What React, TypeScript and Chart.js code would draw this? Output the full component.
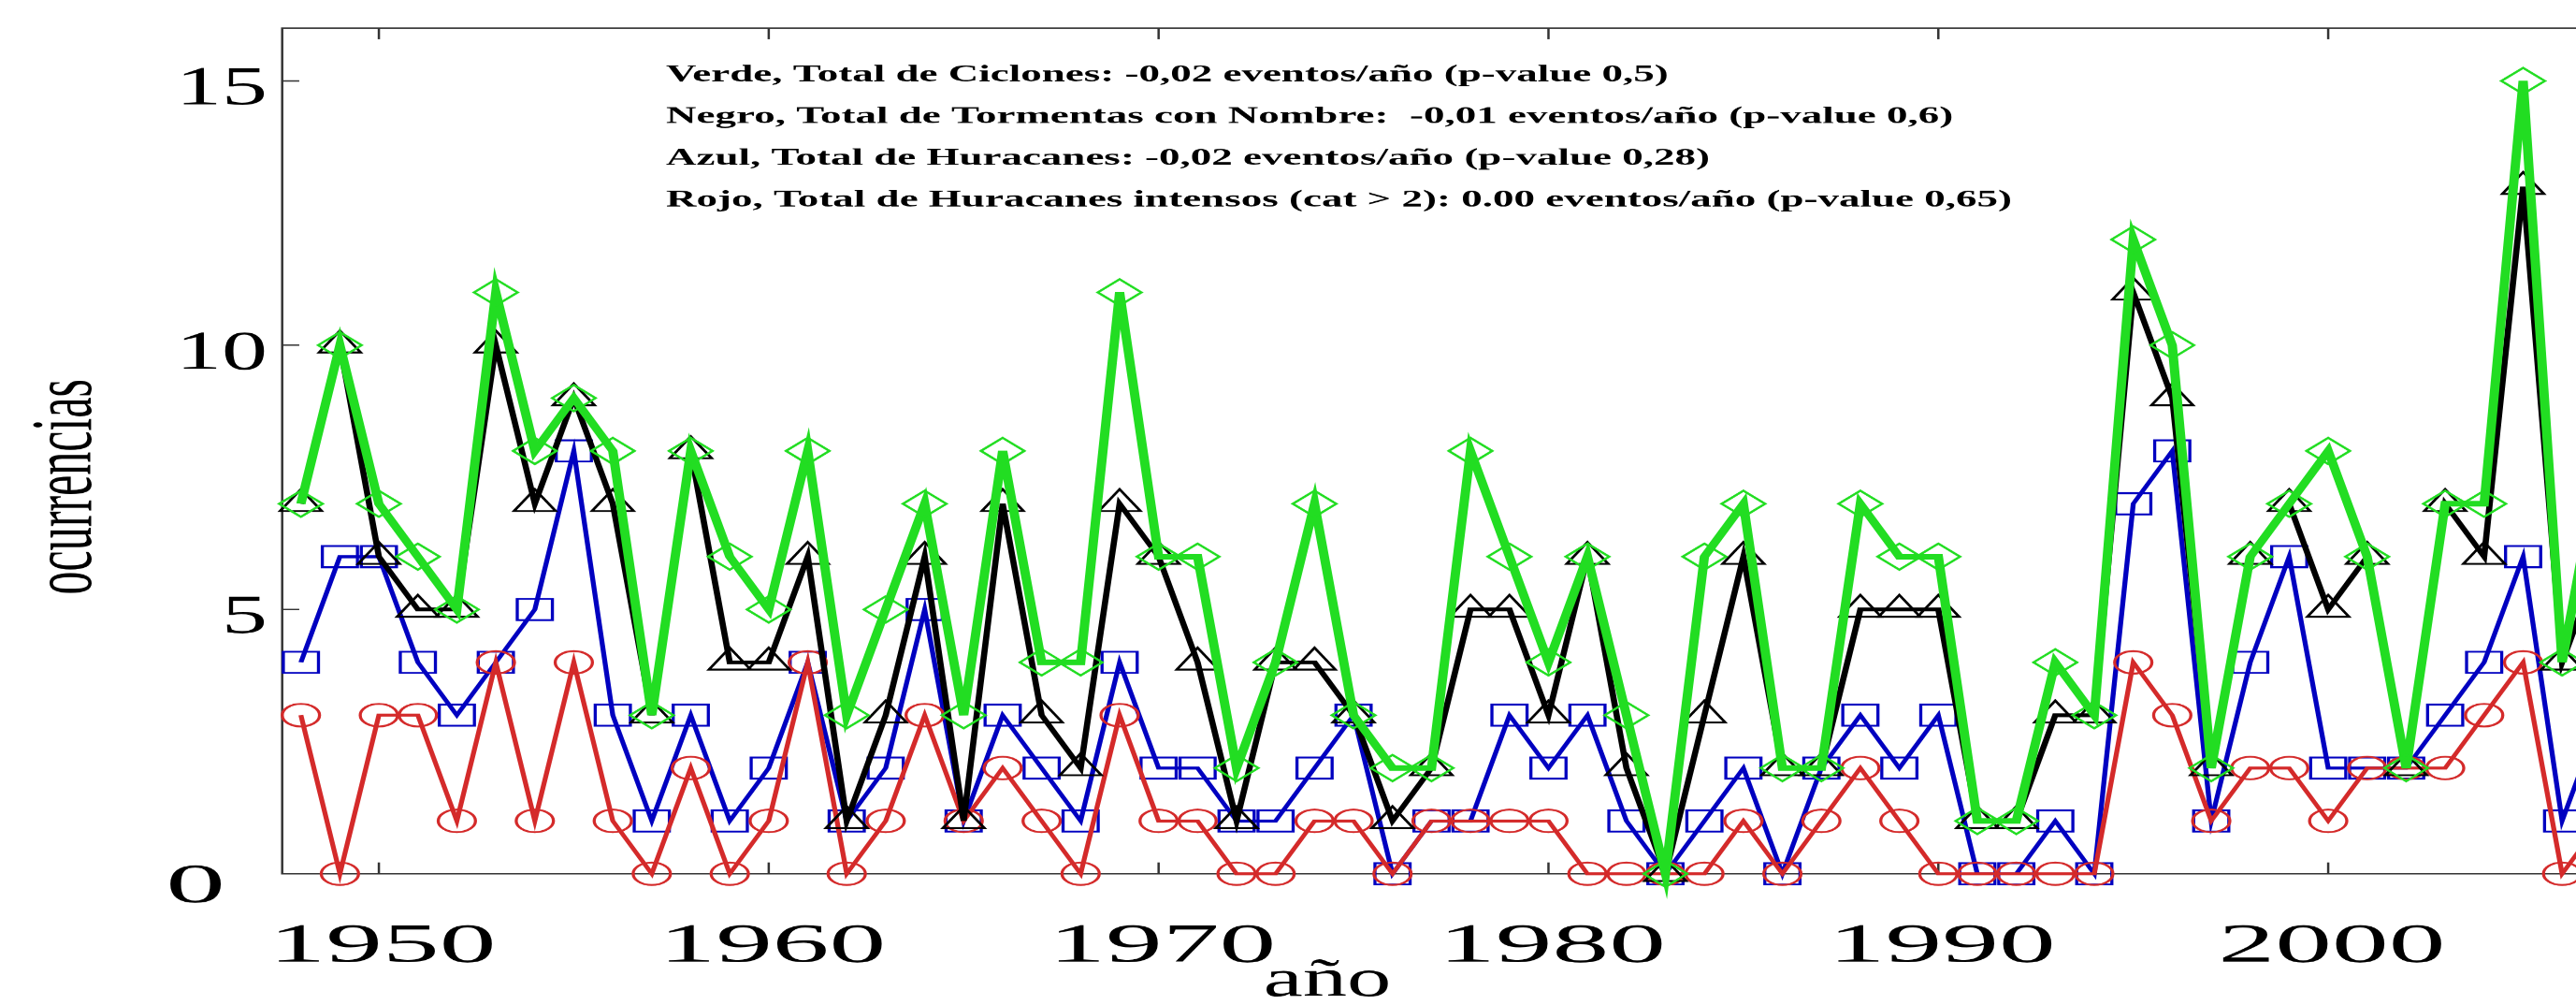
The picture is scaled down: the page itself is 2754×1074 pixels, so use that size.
import React, { useEffect, useRef } from 'react';
import { Chart, registerables } from 'chart.js';

Chart.register(...registerables);

// ---------- data ----------
const years = [
  1948, 1949, 1950, 1951, 1952, 1953, 1954, 1955, 1956, 1957,
  1958, 1959, 1960, 1961, 1962, 1963, 1964, 1965, 1966, 1967,
  1968, 1969, 1970, 1971, 1972, 1973, 1974, 1975, 1976, 1977,
  1978, 1979, 1980, 1981, 1982, 1983, 1984, 1985, 1986, 1987,
  1988, 1989, 1990, 1991, 1992, 1993, 1994, 1995, 1996, 1997,
  1998, 1999, 2000, 2001, 2002, 2003, 2004, 2005, 2006, 2007,
];

// Verde: total de ciclones
const ciclones = [
  7, 10, 7, 6, 5, 11, 8, 9, 8, 3,
  8, 6, 5, 8, 3, 5, 7, 3, 8, 4,
  4, 11, 6, 6, 2, 4, 7, 3, 2, 2,
  8, 6, 4, 6, 3, 0, 6, 7, 2, 2,
  7, 6, 6, 1, 1, 4, 3, 12, 10, 2,
  6, 7, 8, 6, 2, 7, 7, 15, 4, 8,
];

// Negro: total de tormentas con nombre
const tormentas = [
  7, 10, 6, 5, 5, 10, 7, 9, 7, 3,
  8, 4, 4, 6, 1, 3, 6, 1, 7, 3,
  2, 7, 6, 4, 1, 4, 4, 3, 1, 2,
  5, 5, 3, 6, 2, 0, 3, 6, 2, 2,
  5, 5, 5, 1, 1, 3, 3, 11, 9, 2,
  6, 7, 5, 6, 2, 7, 6, 13, 4, 6,
];

// Azul: total de huracanes
const huracanes = [
  4, 6, 6, 4, 3, 4, 5, 8, 3, 1,
  3, 1, 2, 4, 1, 2, 5, 1, 3, 2,
  1, 4, 2, 2, 1, 1, 2, 3, 0, 1,
  1, 3, 2, 3, 1, 0, 1, 2, 0, 2,
  3, 2, 3, 0, 0, 1, 0, 7, 8, 1,
  4, 6, 2, 2, 2, 3, 4, 6, 1, 3,
];

// Rojo: huracanes intensos (cat > 2)
const intensos = [
  3, 0, 3, 3, 1, 4, 1, 4, 1, 0,
  2, 0, 1, 4, 0, 1, 3, 1, 2, 1,
  0, 3, 1, 1, 0, 0, 1, 1, 0, 1,
  1, 1, 1, 0, 0, 0, 0, 1, 0, 1,
  2, 1, 0, 0, 0, 0, 0, 4, 3, 1,
  2, 2, 1, 2, 2, 2, 3, 4, 0, 1,
];

const xTicks = [1950, 1960, 1970, 1980, 1990, 2000];
const yTicks = [0, 5, 10, 15];
const xTickLabels = ['1950', '1960', '1970', '1980', '1990', '2000'];
const yTickLabels = ['0', '5', '10', '15'];

const xTitle = 'año';
const yTitle = 'ocurrencias';
const notes = [
  'Verde, Total de Ciclones: -0,02 eventos/año (p-value 0,5)',
  'Negro, Total de Tormentas con Nombre:  -0,01 eventos/año (p-value 0,6)',
  'Azul, Total de Huracanes: -0,02 eventos/año (p-value 0,28)',
  'Rojo, Total de Huracanes intensos (cat > 2): 0.00 eventos/año (p-value 0,65)',
];

// ---------- layout (the figure is horizontally stretched) ----------
const STRETCH = 1.66;
const LOGICAL_W = 1700;
const H = 1074;
const SCREEN_W = Math.round(LOGICAL_W * STRETCH);
const L = (screenX: number) => screenX / STRETCH; // screen px -> logical px
const CHART_LEFT = L(301.7);
const CHART_RIGHT = L(2760);
const CHART_TOP = 30;
const CHART_BOTTOM = 933.3;
const X_MIN = 1947.52;
const X_MAX = 2006.5;
const SERIF = '"Liberation Serif", "Times New Roman", Times, serif';

const pts = (vals: number[]) => years.map((yr, i) => ({ x: yr, y: vals[i] }));

function drawText(
  ctx: CanvasRenderingContext2D,
  text: string,
  x: number,
  y: number,
  font: string,
  align: CanvasTextAlign,
  sx = 1,
  rotate = 0,
  sy = 1,
) {
  ctx.save();
  ctx.translate(x, y);
  if (rotate) ctx.rotate(rotate);
  ctx.scale(sx, sy);
  ctx.font = font;
  ctx.textAlign = align;
  ctx.textBaseline = 'alphabetic';
  ctx.fillStyle = '#000';
  ctx.fillText(text, 0, 0);
  ctx.restore();
}

const framePlugin = {
  id: 'matlabFrame',
  beforeDatasetsDraw(chart: any) {
    const { ctx, chartArea: a, scales } = chart;
    const x = scales.x;
    const y = scales.y;
    ctx.save();
    ctx.strokeStyle = '#333333';
    ctx.lineWidth = 1.5;
    ctx.beginPath();
    ctx.moveTo(a.right, a.top);
    ctx.lineTo(a.left, a.top);
    ctx.lineTo(a.left, a.bottom);
    ctx.lineTo(a.right, a.bottom);
    xTicks.forEach((v) => {
      const px = x.getPixelForValue(v);
      ctx.moveTo(px, a.bottom);
      ctx.lineTo(px, a.bottom - 12);
      ctx.moveTo(px, a.top);
      ctx.lineTo(px, a.top + 12);
    });
    yTicks.forEach((v) => {
      const py = y.getPixelForValue(v);
      ctx.moveTo(a.left, py);
      ctx.lineTo(a.left + 11, py);
    });
    ctx.stroke();
    ctx.restore();

    // tick labels
    const tickFont = `59px ${SERIF}`;
    xTicks.forEach((v, i) => {
      const px = x.getPixelForValue(v) + 2.4;
      drawText(ctx, xTickLabels[i], px, 1027, tickFont, 'center', 1.24);
    });
    yTicks.forEach((v, i) => {
      const py = y.getPixelForValue(v);
      if (v === 0) {
        drawText(ctx, yTickLabels[i], L(241), py + 30, tickFont, 'right', 1.3);
      } else {
        drawText(ctx, yTickLabels[i], L(286), py + 25, tickFont, 'right', 1);
      }
    });

    // axis titles
    drawText(ctx, xTitle, L(1419), 1064, `57px ${SERIF}`, 'center', 1);
    drawText(ctx, yTitle, L(97), 520, `50px ${SERIF}`, 'center', 1, -Math.PI / 2, 1.12);

    // annotation
    ctx.save();
    const noteFont = `bold 25px ${SERIF}`;
    ctx.font = noteFont;
    const target = L(2151) - L(712);
    const sx = target / ctx.measureText(notes[3]).width;
    ctx.restore();
    notes.forEach((t, i) => {
      drawText(ctx, t, L(712), 87 + i * 44.5, noteFont, 'left', sx);
    });
  },
};

export default function App() {
  const ref = useRef<HTMLCanvasElement>(null);

  useEffect(() => {
    const canvas = ref.current;
    if (!canvas) return;
    const common = {
      tension: 0,
      clip: false as any,
      pointBackgroundColor: 'rgba(0,0,0,0)',
      pointBorderWidth: 2,
      pointHoverRadius: 0,
    };
    const fixPad = (s: any) => {
      s.paddingTop = 0;
      s.paddingBottom = 0;
      s.paddingLeft = 0;
      s.paddingRight = 0;
    };
    const chart = new Chart(canvas, {
      type: 'line',
      data: {
        datasets: [
          {
            ...common,
            label: 'Total de Ciclones',
            data: pts(ciclones),
            borderColor: '#22dd22',
            pointBorderColor: '#22dd22',
            borderWidth: 6,
            pointStyle: 'rectRot',
            pointRadius: 14,
            order: 0,
          },
          {
            ...common,
            label: 'Total de Tormentas con Nombre',
            data: pts(tormentas),
            borderColor: '#000000',
            pointBorderColor: '#000000',
            borderWidth: 4,
            pointStyle: 'triangle',
            pointRadius: 15.5,
            order: 1,
          },
          {
            ...common,
            label: 'Total de Huracanes intensos',
            data: pts(intensos),
            borderColor: '#d42a2a',
            pointBorderColor: '#d42a2a',
            borderWidth: 3.2,
            pointStyle: 'circle',
            pointRadius: 12,
            order: 2,
          },
          {
            ...common,
            label: 'Total de Huracanes',
            data: pts(huracanes),
            borderColor: '#0000c0',
            pointBorderColor: '#0000c0',
            borderWidth: 3.2,
            pointStyle: 'rect',
            pointRadius: 16,
            order: 3,
          },
        ],
      },
      options: {
        responsive: false,
        animation: false,
        devicePixelRatio: STRETCH,
        events: [],
        layout: {
          padding: { left: 0, top: CHART_TOP, right: LOGICAL_W - CHART_RIGHT, bottom: 0 },
        },
        plugins: {
          legend: { display: false },
          tooltip: { enabled: false },
          title: { display: false },
        },
        scales: {
          x: {
            type: 'linear',
            position: 'bottom',
            min: X_MIN,
            max: X_MAX,
            afterBuildTicks: (s: any) => {
              s.ticks = xTicks.map((v) => ({ value: v }));
            },
            afterFit: (s: any) => {
              s.height = H - CHART_BOTTOM;
              fixPad(s);
            },
            grid: { display: false, drawTicks: false },
            border: { display: false },
            ticks: { display: false },
            title: { display: false },
          },
          y: {
            type: 'linear',
            position: 'left',
            min: 0,
            max: 16,
            afterBuildTicks: (s: any) => {
              s.ticks = yTicks.map((v) => ({ value: v }));
            },
            afterFit: (s: any) => {
              s.width = CHART_LEFT;
              fixPad(s);
            },
            grid: { display: false, drawTicks: false },
            border: { display: false },
            ticks: { display: false },
            title: { display: false },
          },
        },
      },
      plugins: [framePlugin],
    } as any);
    canvas.style.width = `${SCREEN_W}px`;
    canvas.style.height = `${H}px`;
    return () => chart.destroy();
  }, []);

  return (
    <div
      style={{
        position: 'fixed',
        left: 0,
        top: 0,
        width: 2754,
        height: 1074,
        overflow: 'hidden',
        background: '#ffffff',
      }}
    >
      <canvas
        ref={ref}
        width={LOGICAL_W}
        height={H}
        style={{ width: `${SCREEN_W}px`, height: `${H}px`, display: 'block' }}
      />
    </div>
  );
}
